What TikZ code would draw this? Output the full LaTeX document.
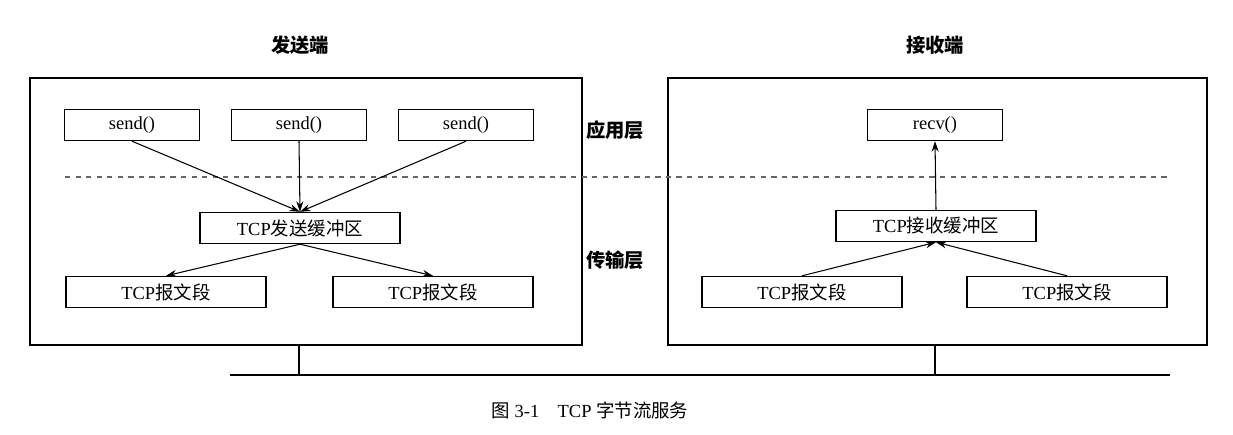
\documentclass[tikz,border=0pt]{standalone}
\usepackage{fontspec}
\setmainfont{Liberation Serif}
\newfontfamily\cjk{Noto Sans CJK SC}
\usetikzlibrary{positioning,arrows.meta}
\tikzset{
  box/.style={draw,thick,minimum height=0.62cm,font=\fontsize{10.5}{12}\selectfont},
  frame/.style={draw,thick},
  arr/.style={-{Stealth[length=6pt,width=4pt]},semithick},
  lbl/.style={font=\fontsize{11}{13}\selectfont\cjk\bfseries}
}
\begin{document}
\begin{tikzpicture}[x=0.02cm,y=-0.02cm]
        \useasboundingbox (0,0) rectangle (1233,434);
        % Frames
        \draw[frame] (30,78) rectangle (582,345);
        \draw[frame] (668,78) rectangle (1207,345);
        \node[lbl] (snd) at (300,45) {发送端};
        \node[lbl] (rcv) at (935,45) {接收端};
        \node[lbl] (app) at (615,130) {应用层};
        \node[lbl] (trn) at (615,260) {传输层};
        % Layer boundary
        \draw[dashed,thick,gray!80!black] (65,177) -- (1170,177);
        % Sender
        \node[box,minimum width=2.7cm] (s1) at (132,125) {send()};
        \node[box,minimum width=2.7cm] (s2) at (299,125) {send()};
        \node[box,minimum width=2.7cm] (s3) at (466,125) {send()};
        \node[box,minimum width=4cm] (sbuf) at (300,228) {TCP{\cjk 发送缓冲区}};
        \node[box,minimum width=4cm] (sseg1) at (166,292) {TCP{\cjk 报文段}};
        \node[box,minimum width=4cm] (sseg2) at (433,292) {TCP{\cjk 报文段}};
        \foreach \s in {s1,s2,s3}
            \draw[arr] (\s.south) -- (sbuf.north);
        \draw[arr] (sbuf.south) -- (sseg1.north);
        \draw[arr] (sbuf.south) -- (sseg2.north);
        % Receiver
        \node[box,minimum width=2.7cm] (r1) at (935,125) {recv()};
        \node[box,minimum width=4cm] (rbuf) at (936,226) {TCP{\cjk 接收缓冲区}};
        \node[box,minimum width=4cm] (rseg1) at (802,292) {TCP{\cjk 报文段}};
        \node[box,minimum width=4cm] (rseg2) at (1067,292) {TCP{\cjk 报文段}};
        \draw[arr] (rseg1.north) -- (rbuf.south);
        \draw[arr] (rseg2.north) -- (rbuf.south);
        \draw[arr] (rbuf.north) -- (r1.south);
        % Network
        \coordinate (n1) at (299,375);
        \coordinate (n2) at (935,375);
        \draw[line width=1.6pt] (230,375) -- (1170,375);
        \draw[line width=1.6pt] (299,345) -- (n1);
        \draw[line width=1.6pt] (935,345) -- (n2);
        \node[font=\fontsize{10.5}{12}\selectfont] (cap) at (590,410) {{\cjk 图} 3-1\quad TCP {\cjk 字节流服务}};
\end{tikzpicture}
\end{document}
